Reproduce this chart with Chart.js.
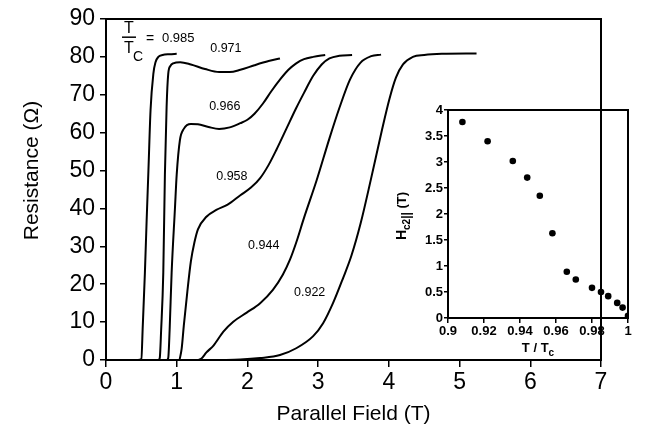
<!DOCTYPE html>
<html>
<head>
<meta charset="utf-8">
<script src="https://cdn.jsdelivr.net/npm/chart.js@4/dist/chart.umd.min.js"></script>
<style>
  body { margin: 0; background: #fff; }
  #wrap { position: relative; width: 652px; height: 428px; }
  #main { position: absolute; left: 0; top: 0; }
  #inset { position: absolute; left: 380px; top: 95px; }
</style>
</head>
<body>
<div id="wrap">
  <canvas id="main" width="652" height="428"></canvas>
  <canvas id="inset" width="260" height="275"></canvas>
</div>
<script>
// resistance vs parallel field, one pair of arrays per T/Tc
const field985 = [0.45, 0.50, 0.52, 0.55, 0.575, 0.60, 0.63, 0.67, 0.70, 0.74, 0.80, 0.90, 1.00];
const res985 = [0, 0.3, 9, 23, 37, 50, 66, 75.6, 78.6, 80, 80.5, 80.7, 80.8];

const field971 = [0.74, 0.76, 0.78, 0.81, 0.833, 0.857, 0.88, 0.91, 0.95, 1.05, 1.2, 1.4, 1.6, 1.75, 1.9, 2.1, 2.3, 2.46];
const res971 = [0, 0.5, 8, 23, 49, 66.8, 75.5, 77.6, 78.3, 78.6, 78, 76.8, 76, 76, 76.6, 77.8, 78.9, 79.6];

const field966 = [0.86, 0.88, 0.90, 0.928, 0.975, 1.0, 1.045, 1.1, 1.2, 1.3, 1.45, 1.6, 1.75, 1.9, 2.0, 2.1, 2.22, 2.34, 2.46, 2.58, 2.69, 2.8, 2.93, 3.1];
const res966 = [0, 0.5, 8, 23, 40, 49, 58, 61, 62.3, 62.2, 61.5, 61, 61.4, 62.5, 63.4, 65, 67.7, 71, 74, 76.6, 78.3, 79.4, 80, 80.5];

const field958 = [1.04, 1.07, 1.10, 1.15, 1.20, 1.25, 1.30, 1.42, 1.56, 1.72, 1.90, 2.05, 2.18, 2.30, 2.41, 2.55, 2.69, 2.80, 2.93, 3.05, 3.16, 3.30, 3.48];
const res958 = [0, 3, 9, 18, 26, 31, 34.5, 37.8, 39.6, 41, 43.5, 45.5, 48, 51.5, 55.5, 61, 66.5, 70.5, 75, 78, 79.6, 80.3, 80.5];

const field944 = [1.30, 1.35, 1.42, 1.52, 1.66, 1.80, 1.99, 2.18, 2.36, 2.50, 2.60, 2.69, 2.80, 2.98, 3.16, 3.30, 3.45, 3.60, 3.75, 3.89];
const res944 = [0, 0.4, 2, 3.8, 7.5, 10.1, 12.5, 15, 18.5, 22.5, 26.4, 31, 37.5, 47.5, 58.5, 66.5, 74, 78.5, 80.2, 80.6];

const field922 = [1.60, 1.90, 2.18, 2.46, 2.69, 2.93, 3.07, 3.21, 3.35, 3.47, 3.60, 3.75, 3.90, 4.01, 4.10, 4.20, 4.34, 4.50, 4.75, 5.24];
const res922 = [0, 0.1, 0.5, 1.3, 3.1, 6.3, 9.7, 15, 21.5, 27.5, 36, 48, 60.5, 69, 74.5, 78, 80, 80.5, 80.8, 80.9];

// inset: Hc2 parallel vs T/Tc
const hc2Temp = [0.908, 0.922, 0.936, 0.944, 0.951, 0.958, 0.966, 0.971, 0.980, 0.985, 0.989, 0.994, 0.997, 1.0];
const hc2Field = [3.77, 3.40, 3.02, 2.70, 2.35, 1.63, 0.89, 0.74, 0.58, 0.50, 0.42, 0.29, 0.20, 0.04];

const fieldTicks = [0, 1, 2, 3, 4, 5, 6, 7];
const resTicks = [0, 10, 20, 30, 40, 50, 60, 70, 80, 90];
const insetTempTicks = [0.9, 0.92, 0.94, 0.96, 0.98, 1];
const insetFieldTicks = [0, 0.5, 1, 1.5, 2, 2.5, 3, 3.5, 4];

const FONT = "'Liberation Sans', Arial, Helvetica, sans-serif";
Chart.defaults.font.family = FONT;
Chart.defaults.color = '#000';

function pairs(xs, ys) {
    return xs.map((x, i) => ({ x, y: ys[i] }));
}

function setTicks(list) {
    return scale => { scale.ticks = list.map(v => ({ value: v })); };
}

const plainNumber = v => String(Math.round(v * 100) / 100);

const frame = {
    id: 'frame',
    afterDraw(chart) {
        const { ctx, chartArea: a } = chart;
        ctx.save();
        ctx.strokeStyle = '#000';
        ctx.lineWidth = 2;
        ctx.strokeRect(a.left, a.top, a.right - a.left, a.bottom - a.top);
        ctx.restore();
    }
};

// curve labels, the T/Tc fraction and the y title
const curveLabels = {
    id: 'curveLabels',
    afterDraw(chart) {
        const { ctx, scales: { x, y } } = chart;
        const spots = [
            ['0.971', 1.695, 82.3],
            ['0.966', 1.68, 66.8],
            ['0.958', 1.78, 48.3],
            ['0.944', 2.23, 30.3],
            ['0.922', 2.88, 17.7]
        ];
        ctx.save();
        ctx.fillStyle = '#000';
        ctx.textAlign = 'center';
        ctx.textBaseline = 'middle';
        ctx.font = '12.5px ' + FONT;
        spots.forEach(([t, vx, vy]) => ctx.fillText(t, x.getPixelForValue(vx), y.getPixelForValue(vy)));

        // fraction T / Tc = 0.985
        const fx = x.getPixelForValue(0.325);
        const fy = y.getPixelForValue(85.2);
        ctx.font = '16px ' + FONT;
        ctx.textBaseline = 'alphabetic';
        ctx.fillText('T', fx, fy - 4);
        ctx.fillText('T', fx, fy + 16);
        ctx.font = '14px ' + FONT;
        ctx.fillText('C', fx + 9, fy + 24);
        ctx.lineWidth = 1.5;
        ctx.beginPath();
        ctx.moveTo(fx - 7, fy);
        ctx.lineTo(fx + 7, fy);
        ctx.stroke();
        ctx.font = '14px ' + FONT;
        ctx.textBaseline = 'middle';
        ctx.fillText('=', fx + 21, fy + 1.5);
        ctx.textAlign = 'left';
        ctx.font = '13px ' + FONT;
        ctx.fillText('0.985', fx + 33, fy + 1);

        // y title, sits a little above the axis middle in the original
        ctx.translate(32, y.getPixelForValue(50));
        ctx.rotate(-Math.PI / 2);
        ctx.textAlign = 'center';
        ctx.font = '21px ' + FONT;
        ctx.fillText('Resistance (\u03A9)', 0, 0);
        ctx.restore();
    }
};

const curves = [
    [field985, res985], [field971, res971], [field966, res966],
    [field958, res958], [field944, res944], [field922, res922]
];

new Chart(document.getElementById('main'), {
    type: 'line',
    data: {
        datasets: curves.map(([xs, ys]) => ({
            data: pairs(xs, ys),
            borderColor: '#000',
            borderWidth: 2,
            pointRadius: 0,
            fill: false,
            cubicInterpolationMode: 'monotone'
        }))
    },
    options: {
        responsive: false,
        animation: false,
        layout: { padding: { top: 19, right: 51, left: 0, bottom: 0 } },
        plugins: { legend: { display: false }, tooltip: { enabled: false } },
        scales: {
            x: {
                type: 'linear',
                min: 0,
                max: 7,
                afterBuildTicks: setTicks(fieldTicks),
                afterFit: s => { s.height = 68; },
                border: { color: '#000', width: 2 },
                grid: { drawOnChartArea: false, color: '#000', lineWidth: 1.5, tickLength: 7 },
                ticks: { color: '#000', font: { size: 23 }, padding: 2, maxRotation: 0 },
                title: {
                    display: true,
                    text: 'Parallel Field (T)',
                    color: '#000',
                    font: { size: 21 },
                    padding: { top: 0, bottom: 1 }
                }
            },
            y: {
                type: 'linear',
                min: 0,
                max: 90,
                afterBuildTicks: setTicks(resTicks),
                afterFit: s => { s.width = 106; },
                border: { color: '#000', width: 2 },
                grid: { drawOnChartArea: false, color: '#000', lineWidth: 1.5, tickLength: 6 },
                ticks: { color: '#000', font: { size: 23 }, padding: 5 }
            }
        }
    },
    plugins: [frame, curveLabels]
});

// inset axis titles with subscripts
const insetTitles = {
    id: 'insetTitles',
    afterDraw(chart) {
        const ctx = chart.ctx;
        const a = chart.chartArea;
        ctx.save();
        ctx.fillStyle = '#000';
        ctx.textBaseline = 'alphabetic';

        const drawRun = (parts, cx, base) => {
            let w = 0;
            parts.forEach(p => { ctx.font = p[1]; w += ctx.measureText(p[0]).width; });
            let px = cx - w / 2;
            parts.forEach(p => {
                ctx.font = p[1];
                ctx.fillText(p[0], px, base + p[2]);
                px += ctx.measureText(p[0]).width;
            });
        };

        // x title: T / Tc
        drawRun([
            ['T / T', 'bold 13px ' + FONT, 0],
            ['c', 'bold 10px ' + FONT, 4]
        ], (a.left + a.right) / 2, a.bottom + 34);

        // y title: Hc2|| (T), rotated
        ctx.translate(22, (a.top + a.bottom) / 2 + 2);
        ctx.rotate(-Math.PI / 2);
        drawRun([
            ['H', 'bold 14px ' + FONT, 0],
            ['c2', 'bold 10px ' + FONT, 4],
            ['||', 'bold 12px ' + FONT, 4],
            [' (T)', 'bold 13px ' + FONT, 0]
        ], 0, 4);
        ctx.restore();
    }
};

new Chart(document.getElementById('inset'), {
    type: 'scatter',
    data: {
        datasets: [{
            data: pairs(hc2Temp, hc2Field),
            backgroundColor: '#000',
            borderColor: '#000',
            pointRadius: 3.3,
            pointBorderWidth: 0
        }]
    },
    options: {
        responsive: false,
        animation: false,
        layout: { padding: { top: 15, right: 12, left: 0, bottom: 0 } },
        plugins: { legend: { display: false }, tooltip: { enabled: false } },
        scales: {
            x: {
                type: 'linear',
                min: 0.9,
                max: 1,
                afterBuildTicks: setTicks(insetTempTicks),
                afterFit: s => { s.height = 52; },
                border: { color: '#000', width: 2 },
                grid: { drawOnChartArea: false, color: '#000', lineWidth: 1.5, tickLength: 5 },
                ticks: {
                    color: '#000',
                    font: { size: 13, weight: 'bold' },
                    padding: 1,
                    maxRotation: 0,
                    callback: plainNumber
                }
            },
            y: {
                type: 'linear',
                min: 0,
                max: 4,
                afterBuildTicks: setTicks(insetFieldTicks),
                afterFit: s => { s.width = 68; },
                border: { color: '#000', width: 2 },
                grid: { drawOnChartArea: false, color: '#000', lineWidth: 1.5, tickLength: 4 },
                ticks: { color: '#000', font: { size: 13, weight: 'bold' }, padding: 1, callback: plainNumber }
            }
        }
    },
    plugins: [frame, insetTitles]
});
</script>
</body>
</html>
